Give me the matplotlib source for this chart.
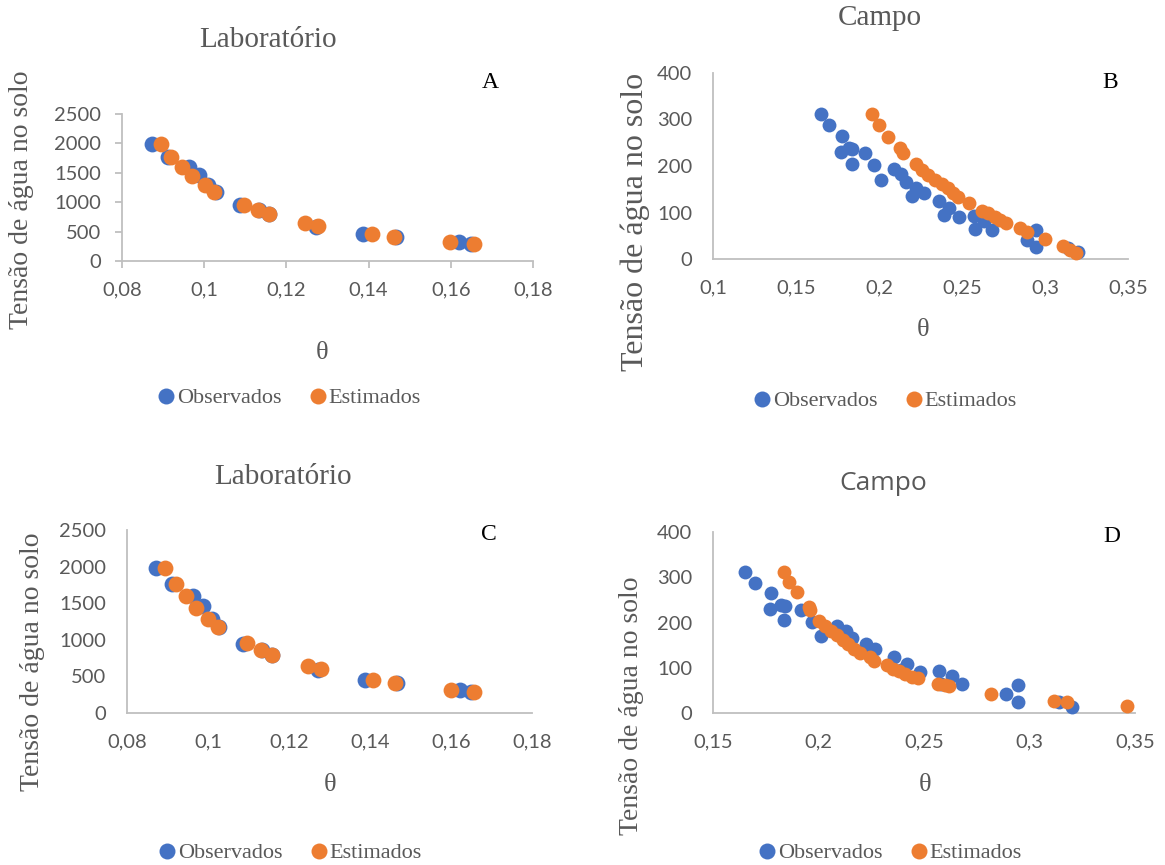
import matplotlib
matplotlib.use("Agg")
import matplotlib.pyplot as plt
from matplotlib.lines import Line2D

# ---------------- data ----------------
lab_obs_theta = [0.0872, 0.0911, 0.0963, 0.0987, 0.1009, 0.1028, 0.1086, 0.1133,
                 0.1157, 0.1272, 0.1387, 0.1466, 0.1621, 0.1650]
lab_obs_tension = [1985, 1765, 1600, 1455, 1290, 1180, 945, 865, 795, 585, 455, 415, 320, 290]

lab_est_theta = [0.0894, 0.0920, 0.0945, 0.0971, 0.1001, 0.1025, 0.1096, 0.1131,
                 0.1157, 0.1246, 0.1278, 0.1408, 0.1462, 0.1599, 0.1657]
lab_est_tension = [1985, 1765, 1595, 1440, 1290, 1180, 950, 865, 795, 645, 600, 455, 415, 320, 290]

campo_obs_theta = [0.165, 0.170, 0.1775, 0.177, 0.182, 0.184, 0.1835, 0.1915, 0.197, 0.201,
                   0.209, 0.213, 0.216, 0.220, 0.2225, 0.227, 0.236, 0.239, 0.242, 0.248,
                   0.257, 0.258, 0.2635, 0.268, 0.289, 0.2945, 0.2945, 0.3138, 0.320]
campo_obs_tension = [311, 288, 265, 230, 238, 237, 205, 228, 202, 170,
                     193, 182, 165, 136, 152, 142, 124, 95, 109, 90,
                     92, 65, 82, 63, 41, 62, 25, 24, 14]

campo_est_theta_B = [0.1956, 0.2002, 0.2052, 0.2127, 0.2147, 0.2223, 0.2257, 0.2297, 0.2337,
                     0.2378, 0.2414, 0.2448, 0.2478, 0.2544, 0.2619, 0.2659, 0.2699, 0.2729,
                     0.2765, 0.2849, 0.2889, 0.3000, 0.3110, 0.3151, 0.3187]
campo_est_tension_B = [311, 288, 263, 238, 229, 204, 191, 181, 170,
                       161, 152, 143, 134, 121, 104, 99, 91, 84,
                       77, 66, 59, 43, 27, 20, 13]

campo_est_theta_D = [0.1838, 0.1862, 0.1897, 0.1957, 0.1960, 0.2004, 0.2031, 0.2059, 0.2086,
                     0.2115, 0.2141, 0.2170, 0.2197, 0.2244, 0.2263, 0.2326, 0.2354, 0.2383,
                     0.2410, 0.2442, 0.2473, 0.2568, 0.2600, 0.2620, 0.2816, 0.3116, 0.3176,
                     0.3464]
campo_est_tension_D = [312, 290, 267, 234, 228, 203, 192, 181, 172,
                       162, 152, 142, 133, 124, 116, 105, 98, 93,
                       87, 80, 78, 65, 61, 60, 43, 26, 24,
                       15]

lab_xticks = [0.08, 0.10, 0.12, 0.14, 0.16, 0.18]
lab_xticklabels = ["0,08", "0,1", "0,12", "0,14", "0,16", "0,18"]
lab_yticks = [0, 500, 1000, 1500, 2000, 2500]
campoB_xticks = [0.10, 0.15, 0.20, 0.25, 0.30, 0.35]
campoB_xticklabels = ["0,1", "0,15", "0,2", "0,25", "0,3", "0,35"]
campoD_xticks = [0.15, 0.20, 0.25, 0.30, 0.35]
campoD_xticklabels = ["0,15", "0,2", "0,25", "0,3", "0,35"]
campo_yticks = [0, 100, 200, 300, 400]

series_names = ["Observados", "Estimados"]
ylabel_text = "Tensão de água no solo"
xlabel_text = "θ"

# ---------------- style ----------------
W, H = 1165, 865
BLUE = "#4472C4"
ORANGE = "#ED7D31"
GRAY_TXT = "#595959"
SPINE = "#BFBFBF"
SERIF = ["Liberation Serif", "DejaVu Serif"]
SANS = ["Lato", "DejaVu Sans"]

fig = plt.figure(figsize=(W / 100, H / 100), dpi=100)
fig.patch.set_facecolor("white")


def px_axes(l, t, r, b):
    return fig.add_axes([l / W, 1 - b / H, (r - l) / W, (b - t) / H])


def fx(x):
    return x / W


def fy(y):
    return 1 - y / H


def panel(box, ox, oy, ex, ey, xlim, ylim, xticks, xticklabels, yticks,
          title, title_pos, title_font, title_size, letter, letter_pos,
          ylabel_pos, ylabel_size, theta_pos, legend_pos, ticks_on, msize):
    ax = px_axes(*box)
    ax.scatter(ox, oy, s=msize, color=BLUE, linewidths=0, zorder=3, clip_on=False)
    ax.scatter(ex, ey, s=msize, color=ORANGE, linewidths=0, zorder=4, clip_on=False)
    ax.set_xlim(*xlim)
    ax.set_ylim(*ylim)
    ax.set_xticks(xticks)
    ax.set_xticklabels(xticklabels)
    ax.set_yticks(yticks)
    for s in ["top", "right"]:
        ax.spines[s].set_visible(False)
    for s in ["left", "bottom"]:
        ax.spines[s].set_color(SPINE)
        ax.spines[s].set_linewidth(1.3)
    tl = 5 if ticks_on else 0
    pad = 10 if ticks_on else 15
    ax.tick_params(axis="both", length=tl, width=1.3, color=SPINE,
                   labelcolor=GRAY_TXT, labelsize=14.5, pad=pad)
    for lab in ax.get_xticklabels() + ax.get_yticklabels():
        lab.set_fontfamily(SANS)
    ax.set_facecolor("none")

    fig.text(fx(title_pos[0]), fy(title_pos[1]), title, ha="center", va="center",
             fontsize=title_size, color=GRAY_TXT, family=title_font)
    fig.text(fx(letter_pos[0]), fy(letter_pos[1]), letter, ha="center", va="center",
             fontsize=17, color="black", family=SERIF)
    fig.text(fx(ylabel_pos[0]), fy(ylabel_pos[1]), ylabel_text, ha="center", va="center",
             rotation=90, fontsize=ylabel_size, color=GRAY_TXT, family=SERIF)
    fig.text(fx(theta_pos[0]), fy(theta_pos[1]), xlabel_text, ha="center", va="center",
             fontsize=19, color=GRAY_TXT, family=SERIF)
    handles = [Line2D([], [], linestyle="none", marker="o", markersize=11.5,
                      markerfacecolor=c, markeredgewidth=0) for c in (BLUE, ORANGE)]
    leg = fig.legend(handles, series_names, loc="center",
                     bbox_to_anchor=(fx(legend_pos[0]), fy(legend_pos[1])),
                     ncol=2, frameon=False, handletextpad=-0.1, columnspacing=1.0,
                     handlelength=1.2, prop={"family": SERIF, "size": 16})
    for t in leg.get_texts():
        t.set_color(GRAY_TXT)
    return ax


# Panel A
panel((122, 114, 533, 261), lab_obs_theta, lab_obs_tension, lab_est_theta, lab_est_tension,
      (0.08, 0.18), (0, 2500), lab_xticks, lab_xticklabels, lab_yticks,
      "Laboratório", (268, 40), SERIF, 21, "A", (490, 83),
      (22, 200), 20, (322, 353), (287, 398), True, 130)

# Panel B
panel((713, 73, 1128, 259), campo_obs_theta, campo_obs_tension,
      campo_est_theta_B, campo_est_tension_B,
      (0.10, 0.35), (0, 400), campoB_xticks, campoB_xticklabels, campo_yticks,
      "Campo", (880, 18), SERIF, 21, "B", (1110, 83),
      (635, 222), 23, (923, 330), (883, 401), False, 100)

# Panel C
panel((127, 530, 532, 713), lab_obs_theta, lab_obs_tension, lab_est_theta, lab_est_tension,
      (0.08, 0.18), (0, 2500), lab_xticks, lab_xticklabels, lab_yticks,
      "Laboratório", (283, 477), SERIF, 21, "C", (489, 535),
      (33, 662), 20, (330, 785), (288, 853), False, 130)

# Panel D
panel((713, 532, 1135, 713), campo_obs_theta, campo_obs_tension,
      campo_est_theta_D, campo_est_tension_D,
      (0.15, 0.35), (0, 400), campoD_xticks, campoD_xticklabels, campo_yticks,
      "Campo", (883, 483), ["Open Sans", "DejaVu Sans"], 19, "D", (1112, 537),
      (632, 706), 20, (925, 785), (888, 853), False, 100)

fig.savefig("out.png", dpi=100, facecolor="white")
